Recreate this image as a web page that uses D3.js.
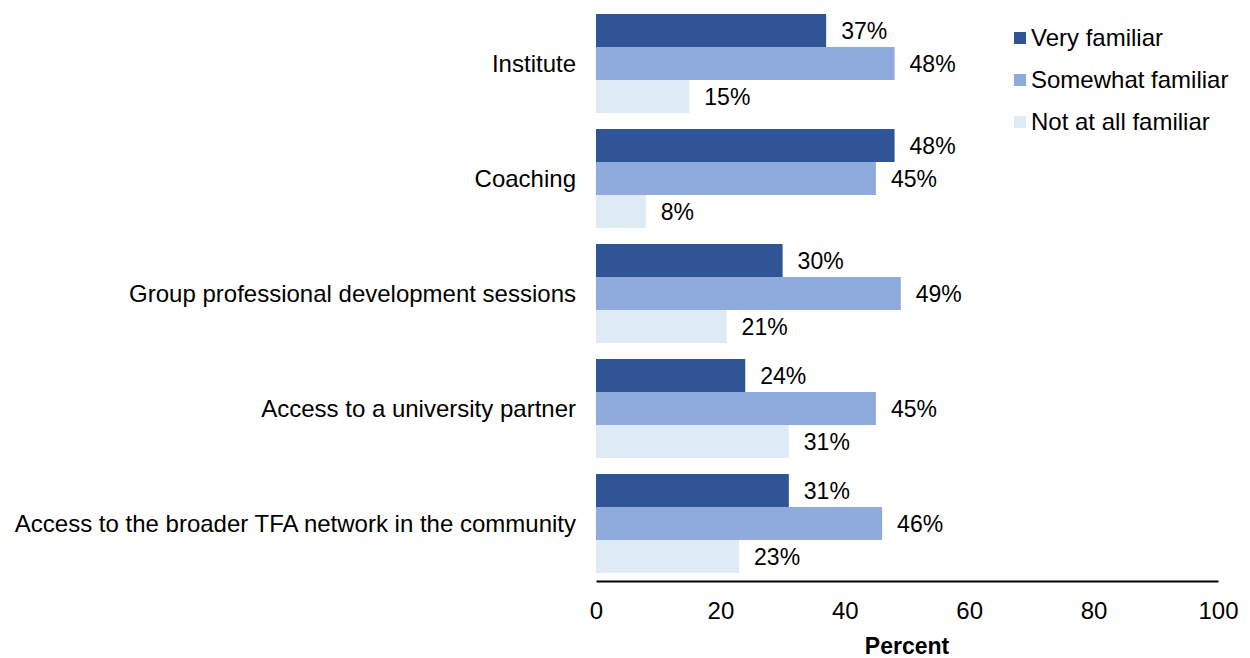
<!DOCTYPE html>
<html>
<head>
<meta charset="utf-8">
<script src="https://cdn.jsdelivr.net/npm/d3@7"></script>
<style>
  html, body { margin: 0; padding: 0; background: #fff; }
  svg text { font-family: "Liberation Sans", Arial, sans-serif; fill: #000; }
</style>
</head>
<body>
<svg id="chart" width="1250" height="658"></svg>
<script>
// Familiarity with program supports, percent of respondents
const categories = [
  "Institute",
  "Coaching",
  "Group professional development sessions",
  "Access to a university partner",
  "Access to the broader TFA network in the community"
];
const seriesNames = ["Very familiar", "Somewhat familiar", "Not at all familiar"];
const veryFamiliar = [37, 48, 30, 24, 31];
const somewhatFamiliar = [48, 45, 49, 45, 46];
const notAtAllFamiliar = [15, 8, 21, 31, 23];
const xTicks = [0, 20, 40, 60, 80, 100];
const colors = ["#2F5597", "#8FAADC", "#DEEBF7"];

const seriesValues = [veryFamiliar, somewhatFamiliar, notAtAllFamiliar];

const svg = d3.select("#chart");

const x = d3.scaleLinear().domain([0, 100]).range([596, 1218]);
const y0 = d3.scaleBand()
  .domain(categories)
  .range([6, 581])
  .paddingInner(16 / 115)
  .paddingOuter(8 / 115);
const y1 = d3.scaleBand()
  .domain(seriesNames)
  .range([0, y0.bandwidth()]);

const groups = svg.append("g").selectAll("g")
  .data(categories)
  .join("g")
  .attr("transform", d => `translate(0,${y0(d)})`);

groups.each(function (cat, ci) {
  const g = d3.select(this);
  seriesNames.forEach((s, si) => {
    const v = seriesValues[si][ci];
    g.append("rect")
      .attr("x", x(0))
      .attr("y", y1(s))
      .attr("width", x(v) - x(0))
      .attr("height", y1.bandwidth())
      .attr("fill", colors[si]);
    g.append("text")
      .attr("x", x(v) + 15)
      .attr("y", y1(s) + y1.bandwidth() / 2)
      .attr("dy", "0.35em")
      .attr("font-size", 23)
      .text(v + "%");
  });
});

// Category labels
svg.append("g").selectAll("text")
  .data(categories)
  .join("text")
  .attr("x", 576)
  .attr("y", d => y0(d) + y0.bandwidth() / 2)
  .attr("dy", "0.35em")
  .attr("text-anchor", "end")
  .attr("font-size", 24)
  .text(d => d);

// Bottom axis
const xAxis = d3.axisBottom(x).tickValues(xTicks).tickSize(0).tickPadding(21);
const axisG = svg.append("g")
  .attr("transform", "translate(0,581)")
  .call(xAxis);
axisG.select(".domain").attr("stroke", "#000").attr("stroke-width", 2);
axisG.selectAll(".tick text")
  .attr("font-size", 24)
  .attr("font-family", "Liberation Sans, Arial, sans-serif")
  .attr("fill", "#000");

svg.append("text")
  .attr("x", (x(0) + x(100)) / 2)
  .attr("y", 654)
  .attr("text-anchor", "middle")
  .attr("font-size", 23)
  .attr("font-weight", "bold")
  .text("Percent");

// Legend
const legend = svg.append("g").selectAll("g")
  .data(seriesNames)
  .join("g")
  .attr("transform", (d, i) => `translate(1014,${38 + i * 42})`);
legend.append("rect")
  .attr("x", 0).attr("y", -6)
  .attr("width", 12).attr("height", 12)
  .attr("fill", (d, i) => colors[i]);
legend.append("text")
  .attr("x", 17)
  .attr("y", 0)
  .attr("dy", "0.35em")
  .attr("font-size", 24)
  .text(d => d);
</script>
</body>
</html>
